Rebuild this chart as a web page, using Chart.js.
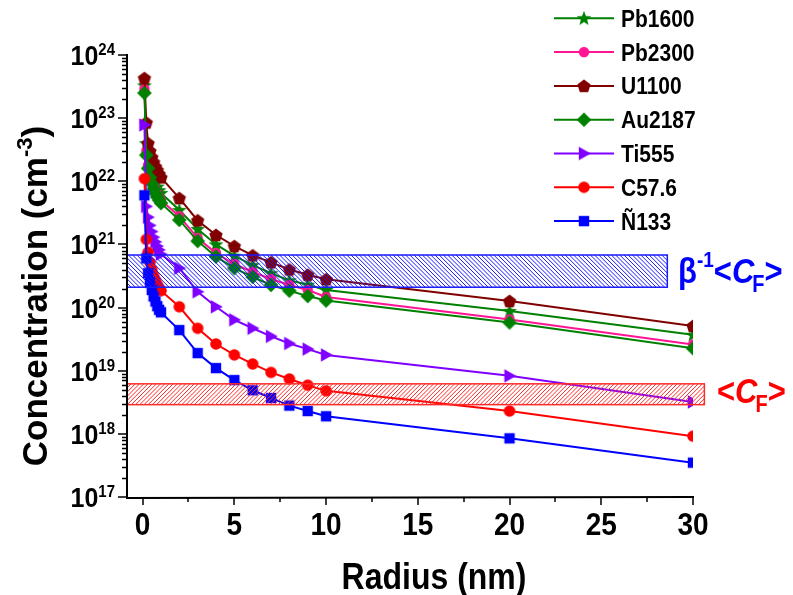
<!DOCTYPE html>
<html><head><meta charset="utf-8">
<script src="https://cdn.jsdelivr.net/npm/chart.js@4.4.0/dist/chart.umd.min.js"></script>
<style>html,body{margin:0;padding:0;background:#fff;}canvas{display:block;}</style>
</head><body>
<canvas id="c" width="793" height="595"></canvas>
<script>
// ---------- data ----------
const radius = [0.1,0.2,0.3,0.4,0.5,0.6,0.7,0.8,0.9,1,2,3,4,5,6,7,8,9,10,20,30];
const seriesNames = ['Pb1600','Pb2300','U1100','Au2187','Ti555','C57.6','Ñ133'];
const pb1600 = [3.3e23,4.0e22,2.3e22,1.7e22,1.35e22,1.1e22,9.5e21,8.2e21,7.2e21,6.5e21,3.5e21,1.75e21,1.0e21,6.6e20,4.7e20,3.5e20,2.7e20,2.3e20,1.9e20,8.8e19,3.7e19];
const pb2300 = [2.9e23,3.0e22,1.8e22,1.3e22,1.05e22,8.5e21,7.2e21,6.2e21,5.5e21,5.0e21,2.8e21,1.26e21,7.3e20,4.9e20,3.66e20,2.83e20,2.28e20,1.9e20,1.47e20,6.5e19,2.6e19];
const u1100 = [4.3e23,8.5e22,4.0e22,3.0e22,2.4e22,2.0e22,1.7e22,1.5e22,1.3e22,1.15e22,5.4e21,2.4e21,1.41e21,9.4e20,6.7e20,5.2e20,4.0e20,3.3e20,2.8e20,1.27e20,5.1e19];
const au2187 = [2.5e23,2.6e22,1.6e22,1.15e22,9.2e21,7.6e21,6.4e21,5.6e21,5.0e21,4.5e21,2.44e21,1.13e21,6.4e20,4.2e20,3.05e20,2.28e20,1.85e20,1.52e20,1.29e20,5.8e19,2.26e19];
const ti555 = [7.8e22,4.0e21,2.7e21,2.0e21,1.6e21,1.3e21,1.1e21,9.4e20,8.2e20,7.0e20,4.2e20,1.78e20,1.03e20,6.4e19,4.7e19,3.5e19,2.7e19,2.2e19,1.78e19,8.3e18,3.2e18];
const c576 = [1.1e22,1.2e21,7.5e20,5.2e20,4.0e20,3.2e20,2.7e20,2.3e20,2.05e20,1.85e20,1.03e20,4.7e19,2.65e19,1.78e19,1.28e19,9.4e18,7.4e18,5.9e18,4.8e18,2.3e18,9.2e17];
const n133 = [6.0e21,6.0e20,3.5e20,2.5e20,1.9e20,1.5e20,1.25e20,1.05e20,9.2e19,8.4e19,4.4e19,1.9e19,1.1e19,7.1e18,4.9e18,3.7e18,2.8e18,2.3e18,1.9e18,8.5e17,3.5e17];
const xTickValues = [0,5,10,15,20,25,30];
const xTickLabels = ['0','5','10','15','20','25','30'];
const xMinorTicks = [2.5,7.5,12.5,17.5,22.5,27.5];
const yDecades = [17,18,19,20,21,22,23,24];
const betaBandX = [-0.85, 28.6];
const betaBandY = [2.1e20, 6.8e20];
const cfBandX = [-0.85, 30.62];
const cfBandY = [2.9e18, 6.2e18];

// ---------- styles ----------
const FONT = "'Liberation Sans', Arial, sans-serif";
const colors = ['#008000','#ff1493','#800000','#008000','#8000ff','#ff0000','#0000ff'];
const shapes = ['star','circle','pentagon','diamond','triRight','circleL','square'];

function makeMarker(shape, color) {
  const S = 16, c = document.createElement('canvas');
  c.width = S; c.height = S;
  const g = c.getContext('2d');
  const cx = S/2, cy = S/2;
  g.fillStyle = color; g.strokeStyle = color; g.lineWidth = 1;
  g.beginPath();
  if (shape === 'star') {
    const R = 7.8, r = 3.3;
    for (let i = 0; i < 10; i++) {
      const a = -Math.PI/2 + i*Math.PI/5, rr = i%2 ? r : R;
      const px = cx + rr*Math.cos(a), py = cy + 0.5 + rr*Math.sin(a);
      i ? g.lineTo(px,py) : g.moveTo(px,py);
    }
  } else if (shape === 'pentagon') {
    const R = 7.0;
    for (let i = 0; i < 5; i++) {
      const a = -Math.PI/2 + i*2*Math.PI/5;
      const px = cx + R*Math.cos(a), py = cy + 0.6 + R*Math.sin(a);
      i ? g.lineTo(px,py) : g.moveTo(px,py);
    }
  } else if (shape === 'circle') {
    g.arc(cx, cy, 5.2, 0, Math.PI*2);
  } else if (shape === 'circleL') {
    g.arc(cx, cy, 5.8, 0, Math.PI*2);
  } else if (shape === 'diamond') {
    g.moveTo(cx, cy-7.3); g.lineTo(cx+7.3, cy); g.lineTo(cx, cy+7.3); g.lineTo(cx-7.3, cy);
  } else if (shape === 'triRight') {
    g.moveTo(cx+6.8, cy); g.lineTo(cx-5.2, cy-6.8); g.lineTo(cx-5.2, cy+6.8);
  } else if (shape === 'square') {
    g.rect(cx-5.2, cy-5.2, 10.4, 10.4);
  }
  g.closePath(); g.fill();
  return c;
}
const markers = shapes.map((s,i) => makeMarker(s, colors[i]));
const seriesValues = [pb1600, pb2300, u1100, au2187, ti555, c576, n133];
const drawOrder = [6,5,4,3,2,1,0];

const datasets = seriesNames.map((name, i) => ({
  label: name,
  data: radius.map((r, k) => ({x: r, y: seriesValues[i][k]})),
  borderColor: colors[i],
  backgroundColor: colors[i],
  borderWidth: 2,
  pointStyle: markers[i],
  pointRadius: 6,
  tension: 0,
  order: drawOrder[i]
}));

// ---------- text helpers ----------
const SY = 1.15;
function runsWidth(ctx, runs) {
  let w = 0;
  for (const r of runs) { ctx.font = r.font; w += ctx.measureText(r.t).width + (r.dx || 0); }
  return w;
}
function drawRuns(ctx, x, y, runs, align, color, sy) {
  sy = sy || 1;
  const w = runsWidth(ctx, runs);
  let cx = align === 'right' ? x - w : align === 'center' ? x - w/2 : x;
  ctx.textBaseline = 'alphabetic'; ctx.textAlign = 'left';
  for (const r of runs) {
    ctx.font = r.font; ctx.fillStyle = r.color || color || '#000';
    ctx.save();
    ctx.translate(cx, y + (r.dy || 0));
    ctx.scale(1, sy);
    ctx.fillText(r.t, 0, 0);
    ctx.restore();
    cx += ctx.measureText(r.t).width + (r.dx || 0);
  }
}

// ---------- plugins ----------
const bandsPlugin = {
  id: 'bands',
  afterDatasetsDraw(chart) {
    const {ctx, scales:{x, y}} = chart;
    function band(bx, by, color, dir) {
      const x0 = x.getPixelForValue(bx[0]), x1 = x.getPixelForValue(bx[1]);
      const y0 = y.getPixelForValue(by[1]), y1 = y.getPixelForValue(by[0]);
      ctx.save();
      ctx.beginPath(); ctx.rect(x0, y0, x1-x0, y1-y0); ctx.clip();
      ctx.strokeStyle = color; ctx.lineWidth = 1;
      ctx.beginPath();
      const step = 4.2, h = y1 - y0;
      for (let c = x0 - h - step; c < x1 + h + step; c += step) {
        if (dir > 0) { ctx.moveTo(c, y0); ctx.lineTo(c + h, y1); }
        else { ctx.moveTo(c + h, y0); ctx.lineTo(c, y1); }
      }
      ctx.stroke();
      ctx.restore();
      ctx.save();
      ctx.strokeStyle = color; ctx.lineWidth = 1.5;
      ctx.strokeRect(x0, y0, x1-x0, y1-y0);
      ctx.restore();
    }
    band(betaBandX, betaBandY, '#1a1aff', 1);
    band(cfBandX, cfBandY, '#ff2a2a', -1);
  }
};

const axesPlugin = {
  id: 'axesDraw',
  afterDraw(chart) {
    const {ctx, chartArea:a, scales:{x, y}} = chart;
    ctx.save();
    ctx.strokeStyle = '#000'; ctx.lineWidth = 2;
    ctx.beginPath();
    ctx.moveTo(a.left, a.top - 1); ctx.lineTo(a.left, a.bottom + 1);
    ctx.lineTo(a.right + 1, a.bottom);
    ctx.stroke();
    ctx.lineWidth = 1.5;
    ctx.beginPath();
    for (const n of yDecades) {
      const py = Math.round(y.getPixelForValue(Math.pow(10, n)));
      ctx.moveTo(a.left, py); ctx.lineTo(a.left - 9, py);
      if (n < 24) {
        for (let m = 2; m <= 9; m++) {
          const pm = Math.round(y.getPixelForValue(m * Math.pow(10, n))) + 0.5;
          ctx.moveTo(a.left, pm); ctx.lineTo(a.left - 5, pm);
        }
      }
    }
    for (const v of xTickValues) {
      const px = Math.round(x.getPixelForValue(v));
      ctx.moveTo(px, a.bottom); ctx.lineTo(px, a.bottom + 8);
    }
    for (const v of xMinorTicks) {
      const px = Math.round(x.getPixelForValue(v));
      ctx.moveTo(px, a.bottom); ctx.lineTo(px, a.bottom + 5);
    }
    ctx.stroke();

    // y tick labels
    for (const n of yDecades) {
      const py = y.getPixelForValue(Math.pow(10, n));
      drawRuns(ctx, 115, py + 10, [
        {t: '10', font: 'bold 25px ' + FONT},
        {t: String(n), font: 'bold 15px ' + FONT, dy: -10}
      ], 'right', '#000', 1.1);
    }
    // x tick labels
    xTickValues.forEach((v, i) => {
      const px = x.getPixelForValue(v);
      drawRuns(ctx, px, 535, [{t: xTickLabels[i], font: 'bold 28px ' + FONT}], 'center', '#000', SY);
    });
    // x title
    drawRuns(ctx, 434, 589, [{t: 'Radius (nm)', font: 'bold 32px ' + FONT}], 'center', '#000', SY);
    // y title
    ctx.save();
    ctx.translate(47, 296);
    ctx.rotate(-Math.PI/2);
    drawRuns(ctx, 0, 0, [
      {t: 'Concentration (cm', font: 'bold 35px ' + FONT},
      {t: '-3', font: 'bold 22px ' + FONT, dy: -15},
      {t: ')', font: 'bold 35px ' + FONT}
    ], 'center', '#000', 1);
    ctx.restore();

    // band labels
    drawRuns(ctx, 678, 283, [
      {t: 'β', font: 'bold 31px ' + FONT},
      {t: '-1', font: 'bold 19px ' + FONT, dy: -16},
      {t: '<', font: 'bold 31px ' + FONT},
      {t: 'C', font: 'italic bold 31px ' + FONT, dx: -2},
      {t: 'F', font: 'bold 20px ' + FONT, dy: 9},
      {t: '>', font: 'bold 31px ' + FONT}
    ], 'left', '#0000ff', SY);
    drawRuns(ctx, 717, 403, [
      {t: '<', font: 'bold 31px ' + FONT},
      {t: 'C', font: 'italic bold 31px ' + FONT, dx: -2},
      {t: 'F', font: 'bold 20px ' + FONT, dy: 9},
      {t: '>', font: 'bold 31px ' + FONT}
    ], 'left', '#ff0000', SY);

    // legend
    seriesNames.forEach((name, i) => {
      const ry = 18.3 + i * 33.8;
      ctx.strokeStyle = colors[i]; ctx.lineWidth = 2;
      ctx.beginPath(); ctx.moveTo(554, ry); ctx.lineTo(614, ry); ctx.stroke();
      const m = markers[i];
      ctx.drawImage(m, 584 - m.width/2, ry - m.height/2);
      drawRuns(ctx, 621, ry + 8.5, [{t: name, font: 'bold 21px ' + FONT}], 'left', '#000', SY);
    });
    ctx.restore();
  }
};

new Chart(document.getElementById('c').getContext('2d'), {
  type: 'line',
  data: { datasets },
  options: {
    responsive: false,
    animation: false,
    devicePixelRatio: 1,
    layout: { padding: { left: 0, top: 55, right: 100, bottom: 0 } },
    plugins: { legend: { display: false }, tooltip: { enabled: false } },
    scales: {
      x: { type: 'linear', min: -0.85, max: 30,
           grid: { display: false }, border: { display: false }, ticks: { display: false },
           afterFit(s) { s.height = 98; } },
      y: { type: 'logarithmic', min: 1e17, max: 1e24,
           grid: { display: false }, border: { display: false }, ticks: { display: false },
           afterFit(s) { s.width = 127; } }
    }
  },
  plugins: [bandsPlugin, axesPlugin]
});
</script>
</body></html>
